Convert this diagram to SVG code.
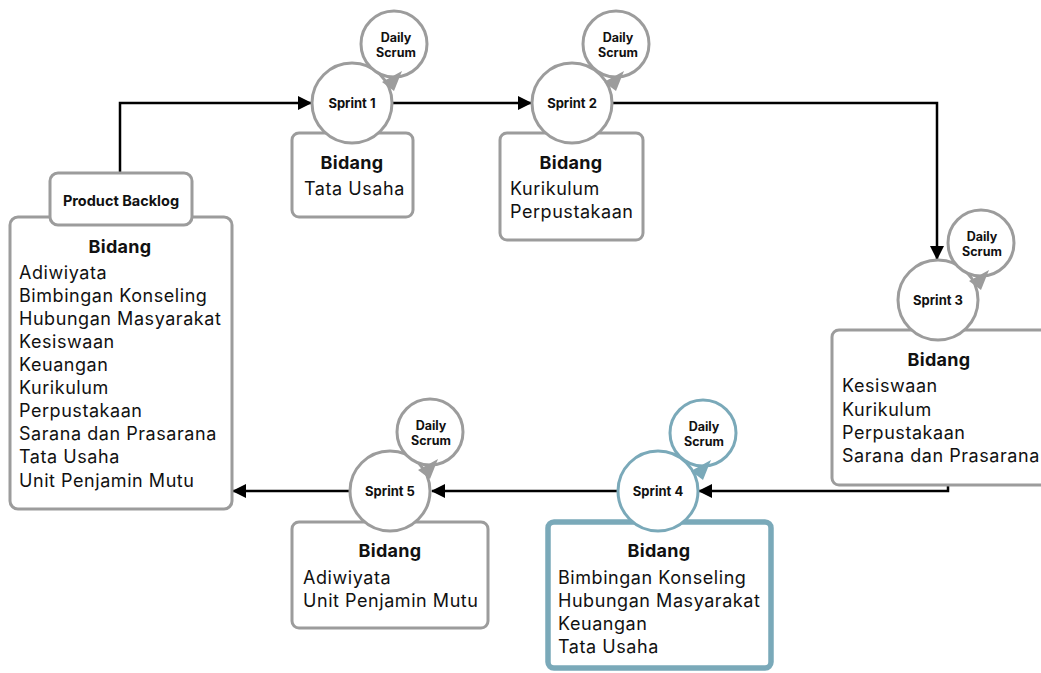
<svg xmlns="http://www.w3.org/2000/svg" width="1041" height="673" viewBox="0 0 1041 673">
  <style>
    .box { fill: #ffffff; stroke: #9c9c9c; stroke-width: 3; }
    .box-active { fill: #ffffff; stroke: #7aa9b9; stroke-width: 5.5; }
    .node { fill: #ffffff; stroke: #9c9c9c; stroke-width: 3; }
    .node-active { fill: #ffffff; stroke: #7aa9b9; stroke-width: 3; }
    .loop { fill: #9c9c9c; }
    .loop-active { fill: #7aa9b9; }
    .edge { fill: none; stroke: #000000; stroke-width: 2.5; marker-end: url(#arrow); }
    text { font-family: Inter, "Noto Sans", "Liberation Sans", sans-serif; fill: #111111; }
    .title { font-size: 18px; font-weight: 700; text-anchor: middle; letter-spacing: 0.3px; }
    .item { font-size: 18px; font-weight: 400; letter-spacing: 0.55px; }
    .sprint { font-size: 13px; font-weight: 700; text-anchor: middle; }
    .scrum { font-size: 12.5px; font-weight: 700; text-anchor: middle; }
    .backlog { font-size: 14.5px; font-weight: 700; text-anchor: middle; }
  </style>
  <defs>
    <marker id="arrow" viewBox="0 0 14 14" markerWidth="14" markerHeight="14" refX="13" refY="7" orient="auto" markerUnits="userSpaceOnUse">
      <path d="M0,0 L14,7 L0,14 z" fill="#000000"/>
    </marker>
    <!-- arrowhead of a daily loop, placed relative to the loop centre -->
    <polygon id="loop-head" points="8,27 -12,38 0,47"/>
  </defs>

  <rect width="1041" height="673" fill="#ffffff"/>

  <!-- connectors -->
  <g id="connectors">
    <path class="edge" d="M120,173 V103 H311"/>
    <path class="edge" d="M392,103 H531"/>
    <path class="edge" d="M612,103 H937 V259"/>
    <path class="edge" d="M948,486 V491 H699"/>
    <path class="edge" d="M618,491 H432"/>
    <path class="edge" d="M349,491 H233"/>
  </g>

  <!-- product backlog -->
  <g id="backlog-list">
    <rect class="box" x="10" y="217" width="222" height="292" rx="8"/>
    <text class="title" x="120" y="253">Bidang</text>
    <text class="item" x="19" y="279">Adiwiyata</text>
    <text class="item" x="19" y="302">Bimbingan Konseling</text>
    <text class="item" x="19" y="325">Hubungan Masyarakat</text>
    <text class="item" x="19" y="348">Kesiswaan</text>
    <text class="item" x="19" y="371">Keuangan</text>
    <text class="item" x="19" y="394">Kurikulum</text>
    <text class="item" x="19" y="417">Perpustakaan</text>
    <text class="item" x="19" y="440">Sarana dan Prasarana</text>
    <text class="item" x="19" y="463">Tata Usaha</text>
    <text class="item" x="19" y="487">Unit Penjamin Mutu</text>
  </g>
  <g id="product-backlog">
    <rect class="box" x="50" y="173" width="142" height="52" rx="8"/>
    <text class="backlog" x="121" y="206">Product Backlog</text>
  </g>

  <!-- sprint 1 -->
  <g id="sprint-1-list">
    <rect class="box" x="292" y="133" width="121" height="84" rx="7"/>
    <text class="title" x="352" y="169">Bidang</text>
    <text class="item" x="304" y="195">Tata Usaha</text>
  </g>
  <g id="sprint-1">
    <circle class="node" cx="352" cy="103" r="40"/>
    <text class="sprint" x="352" y="108">Sprint 1</text>
  </g>
  <g id="daily-1">
    <circle class="node" cx="394" cy="44" r="33"/>
    <text class="scrum" x="396" y="42">Daily</text>
    <text class="scrum" x="396" y="57">Scrum</text>
    <use href="#loop-head" class="loop" x="394" y="44"/>
  </g>

  <!-- sprint 2 -->
  <g id="sprint-2-list">
    <rect class="box" x="500" y="133" width="143" height="107" rx="7"/>
    <text class="title" x="571" y="169">Bidang</text>
    <text class="item" x="510" y="195">Kurikulum</text>
    <text class="item" x="510" y="218">Perpustakaan</text>
  </g>
  <g id="sprint-2">
    <circle class="node" cx="572" cy="103" r="40"/>
    <text class="sprint" x="572" y="108">Sprint 2</text>
  </g>
  <g id="daily-2">
    <circle class="node" cx="616" cy="44" r="33"/>
    <text class="scrum" x="618" y="42">Daily</text>
    <text class="scrum" x="618" y="57">Scrum</text>
    <use href="#loop-head" class="loop" x="616" y="44"/>
  </g>

  <!-- sprint 3 -->
  <g id="sprint-3-list">
    <rect class="box" x="832" y="330" width="215" height="155" rx="7"/>
    <text class="title" x="939" y="366">Bidang</text>
    <text class="item" x="842" y="392">Kesiswaan</text>
    <text class="item" x="842" y="416">Kurikulum</text>
    <text class="item" x="842" y="439">Perpustakaan</text>
    <text class="item" x="842" y="462">Sarana dan Prasarana</text>
  </g>
  <g id="sprint-3">
    <circle class="node" cx="938" cy="300" r="40"/>
    <text class="sprint" x="938" y="305">Sprint 3</text>
  </g>
  <g id="daily-3">
    <circle class="node" cx="981" cy="243" r="33"/>
    <text class="scrum" x="982" y="241">Daily</text>
    <text class="scrum" x="982" y="256">Scrum</text>
    <use href="#loop-head" class="loop" x="981" y="243"/>
  </g>

  <!-- sprint 4 (current) -->
  <g id="sprint-4-list">
    <rect class="box-active" x="548" y="522" width="223" height="146" rx="6"/>
    <text class="title" x="659" y="557">Bidang</text>
    <text class="item" x="558" y="584">Bimbingan Konseling</text>
    <text class="item" x="558" y="607">Hubungan Masyarakat</text>
    <text class="item" x="558" y="630">Keuangan</text>
    <text class="item" x="558" y="653">Tata Usaha</text>
  </g>
  <g id="sprint-4">
    <circle class="node-active" cx="658" cy="491" r="40"/>
    <text class="sprint" x="658" y="496">Sprint 4</text>
  </g>
  <g id="daily-4">
    <circle class="node-active" cx="703" cy="433" r="33"/>
    <text class="scrum" x="704" y="431">Daily</text>
    <text class="scrum" x="704" y="446">Scrum</text>
    <use href="#loop-head" class="loop-active" x="703" y="433"/>
  </g>

  <!-- sprint 5 -->
  <g id="sprint-5-list">
    <rect class="box" x="292" y="522" width="196" height="106" rx="7"/>
    <text class="title" x="390" y="557">Bidang</text>
    <text class="item" x="303" y="584">Adiwiyata</text>
    <text class="item" x="303" y="607">Unit Penjamin Mutu</text>
  </g>
  <g id="sprint-5">
    <circle class="node" cx="390" cy="491" r="40"/>
    <text class="sprint" x="390" y="496">Sprint 5</text>
  </g>
  <g id="daily-5">
    <circle class="node" cx="430" cy="432" r="33"/>
    <text class="scrum" x="431" y="430">Daily</text>
    <text class="scrum" x="431" y="445">Scrum</text>
    <use href="#loop-head" class="loop" x="430" y="432"/>
  </g>
</svg>
